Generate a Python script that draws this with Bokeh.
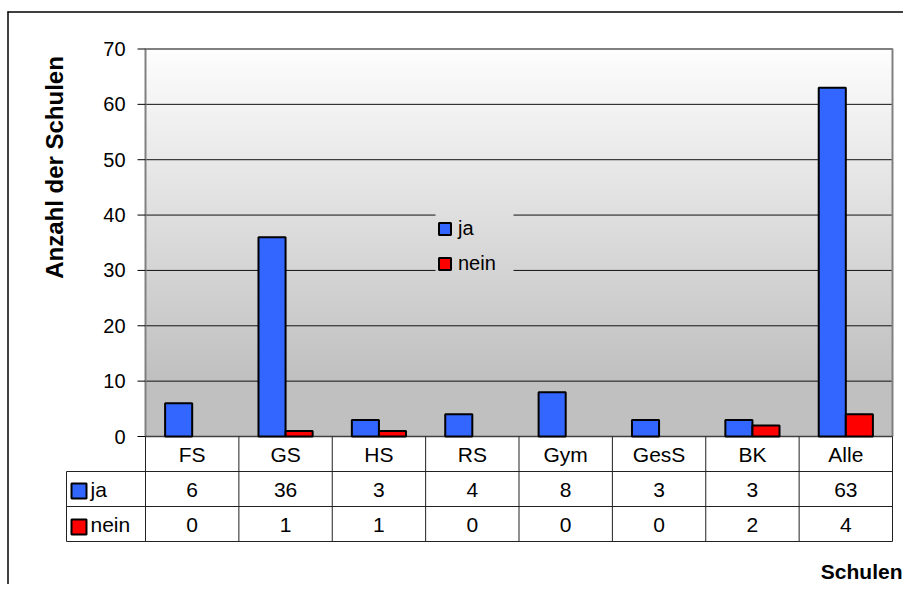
import numpy as np
from bokeh.plotting import figure
from bokeh.models import Range1d, ColumnDataSource, Legend, LegendItem, CDSView, BooleanFilter
from bokeh.core.properties import value
from bokeh.transform import dodge
from bokeh.embed import file_html
from bokeh.resources import INLINE

# ---------------- data ----------------
categories = ["FS", "GS", "HS", "RS", "Gym", "GesS", "BK", "Alle"]
ja = [6, 36, 3, 4, 8, 3, 3, 63]
nein = [0, 1, 1, 0, 0, 0, 2, 4]
series_names = ["ja", "nein"]
series_colors = ["#3366FF", "#FF0000"]
y_ticks = [0, 10, 20, 30, 40, 50, 60, 70]
y_title = "Anzahl der Schulen"
x_title = "Schulen"

# ---------------- layout (canvas pixels) ----------------
W, H = 903, 584
PL, PR, PT, PB = 145, 892, 48.5, 436
YMAX = 70
N = len(categories)
SX = (PR - PL) / N
SY = (PB - PT) / YMAX
FONT = value("Liberation Sans")
LEG_L, LEG_R, LEG_T, LEG_B = 435, 513, 207, 275


def px_x(X):
    return (X - PL) / SX


def px_y(Y):
    return (PB - Y) / SY


def grad_level(yv):
    yv = np.asarray(yv, dtype=float)
    return np.where(yv < 10, 192, 192 + (254 - 192) * (yv - 10) / 60)


def grad_image(y0, y1, ny):
    yc = y0 + (np.arange(ny) + 0.5) / ny * (y1 - y0)
    g = grad_level(yc).astype(np.uint8)
    img = np.empty((ny, 2), dtype=np.uint32)
    view = img.view(dtype=np.uint8).reshape((ny, 2, 4))
    for c in range(3):
        view[:, :, c] = g[:, None]
    view[:, :, 3] = 255
    return img


p = figure(width=W, height=H,
           x_range=Range1d(px_x(0), px_x(W)),
           y_range=Range1d(px_y(H), px_y(0)),
           x_axis_type=None, y_axis_type=None, title=None,
           toolbar_location=None, output_backend="svg", min_border=0,
           outline_line_color=None, background_fill_color="white",
           border_fill_color="white")

# gradient plot background
p.image_rgba(image=[grad_image(0, YMAX, 280)], x=0, y=0, dw=N, dh=YMAX)

# gridlines
grid_vals = [t for t in y_ticks if 0 < t < YMAX]
p.segment(x0=0, y0=grid_vals, x1=N, y1=grid_vals, line_color="#111111", line_width=1)

# legend backdrop (same gradient, hides gridlines behind the legend)
ly0, ly1 = px_y(LEG_B), px_y(LEG_T)
p.image_rgba(image=[grad_image(ly0, ly1, 60)], x=px_x(LEG_L), y=ly0,
             dw=px_x(LEG_R) - px_x(LEG_L), dh=ly1 - ly0)

# plot area border
p.line(x=[0, 0, N, N], y=[0, YMAX, YMAX, 0], line_color="#808080", line_width=2)
p.segment(x0=[0], y0=[0], x1=[N], y1=[0], line_color="#404040", line_width=1.5)

# y ticks and labels
p.segment(x0=px_x(137), y0=y_ticks, x1=0, y1=y_ticks, line_color="black", line_width=1)
p.text(x=0, y=y_ticks, text=[str(t) for t in y_ticks], x_offset=-20,
       text_align="right", text_baseline="middle", text_font=FONT,
       text_font_size="20px", text_color="black")

# bars
w = 0.29
src = ColumnDataSource(dict(x=[i + 0.5 for i in range(N)], ja=ja, nein=nein))
r_ja = p.vbar(x=dodge("x", -w / 2), top="ja", width=w, source=src,
              fill_color=series_colors[0], line_color="black", line_width=2)
nz = CDSView(filter=BooleanFilter([v != 0 for v in nein]))
r_nein = p.vbar(x=dodge("x", w / 2), top="nein", width=w, source=src, view=nz,
                fill_color=series_colors[1], line_color="black", line_width=2)

# data table below the chart
row_lines = [px_y(471), px_y(506), px_y(541)]
p.segment(x0=px_x(66), y0=row_lines, x1=N, y1=row_lines, line_color="#222222", line_width=1)
col_x = list(range(N + 1))
p.segment(x0=col_x, y0=0, x1=col_x, y1=px_y(541), line_color="#222222", line_width=1)
p.segment(x0=[px_x(66)], y0=[px_y(471)], x1=[px_x(66)], y1=[px_y(541)], line_color="#222222", line_width=1)

cx = [i + 0.5 for i in range(N)]
tstyle = dict(text_align="center", text_baseline="middle", text_font=FONT,
              text_font_size="21px", text_color="black")
p.text(x=cx, y=px_y(454), text=categories, **tstyle)
p.text(x=cx, y=px_y(489), text=[str(v) for v in ja], **tstyle)
p.text(x=cx, y=px_y(524), text=[str(v) for v in nein], **tstyle)

p.scatter(x=px_x(78.5), y=[px_y(490.5), px_y(526.5)], marker="square", size=15,
          fill_color=series_colors, line_color="black", line_width=2)
p.text(x=px_x(90), y=[px_y(489), px_y(524)], text=series_names, text_align="left",
       text_baseline="middle", text_font=FONT, text_font_size="21px", text_color="black")

# axis titles
p.text(x=[px_x(54)], y=[px_y(167)], text=[y_title], angle=np.pi / 2,
       text_align="center", text_baseline="middle", text_font=FONT,
       text_font_size="24px", text_font_style="bold", text_color="black")
p.text(x=[px_x(902)], y=[px_y(571)], text=[x_title], text_align="right",
       text_baseline="middle", text_font=FONT, text_font_size="21px",
       text_font_style="bold", text_color="black")

# outer chart border (top and left visible)
p.segment(x0=[px_x(7), px_x(7.5)], y0=[px_y(11.5), px_y(11)],
          x1=[px_x(W), px_x(7.5)], y1=[px_y(11.5), px_y(H)],
          line_color="black", line_width=1.5)

# legend
legend = Legend(items=[LegendItem(label=series_names[0], renderers=[r_ja]),
                       LegendItem(label=series_names[1], renderers=[r_nein])],
                location=(LEG_L + 2, H - LEG_B),
                glyph_width=15, glyph_height=15, label_height=15,
                label_standoff=6, spacing=12, padding=6, margin=0,
                border_line_color=None, background_fill_alpha=0.0,
                label_text_font="Liberation Sans", label_text_font_size="20px",
                label_text_color="black")
p.add_layout(legend)

open("out.html", "w").write(file_html(p, INLINE))
